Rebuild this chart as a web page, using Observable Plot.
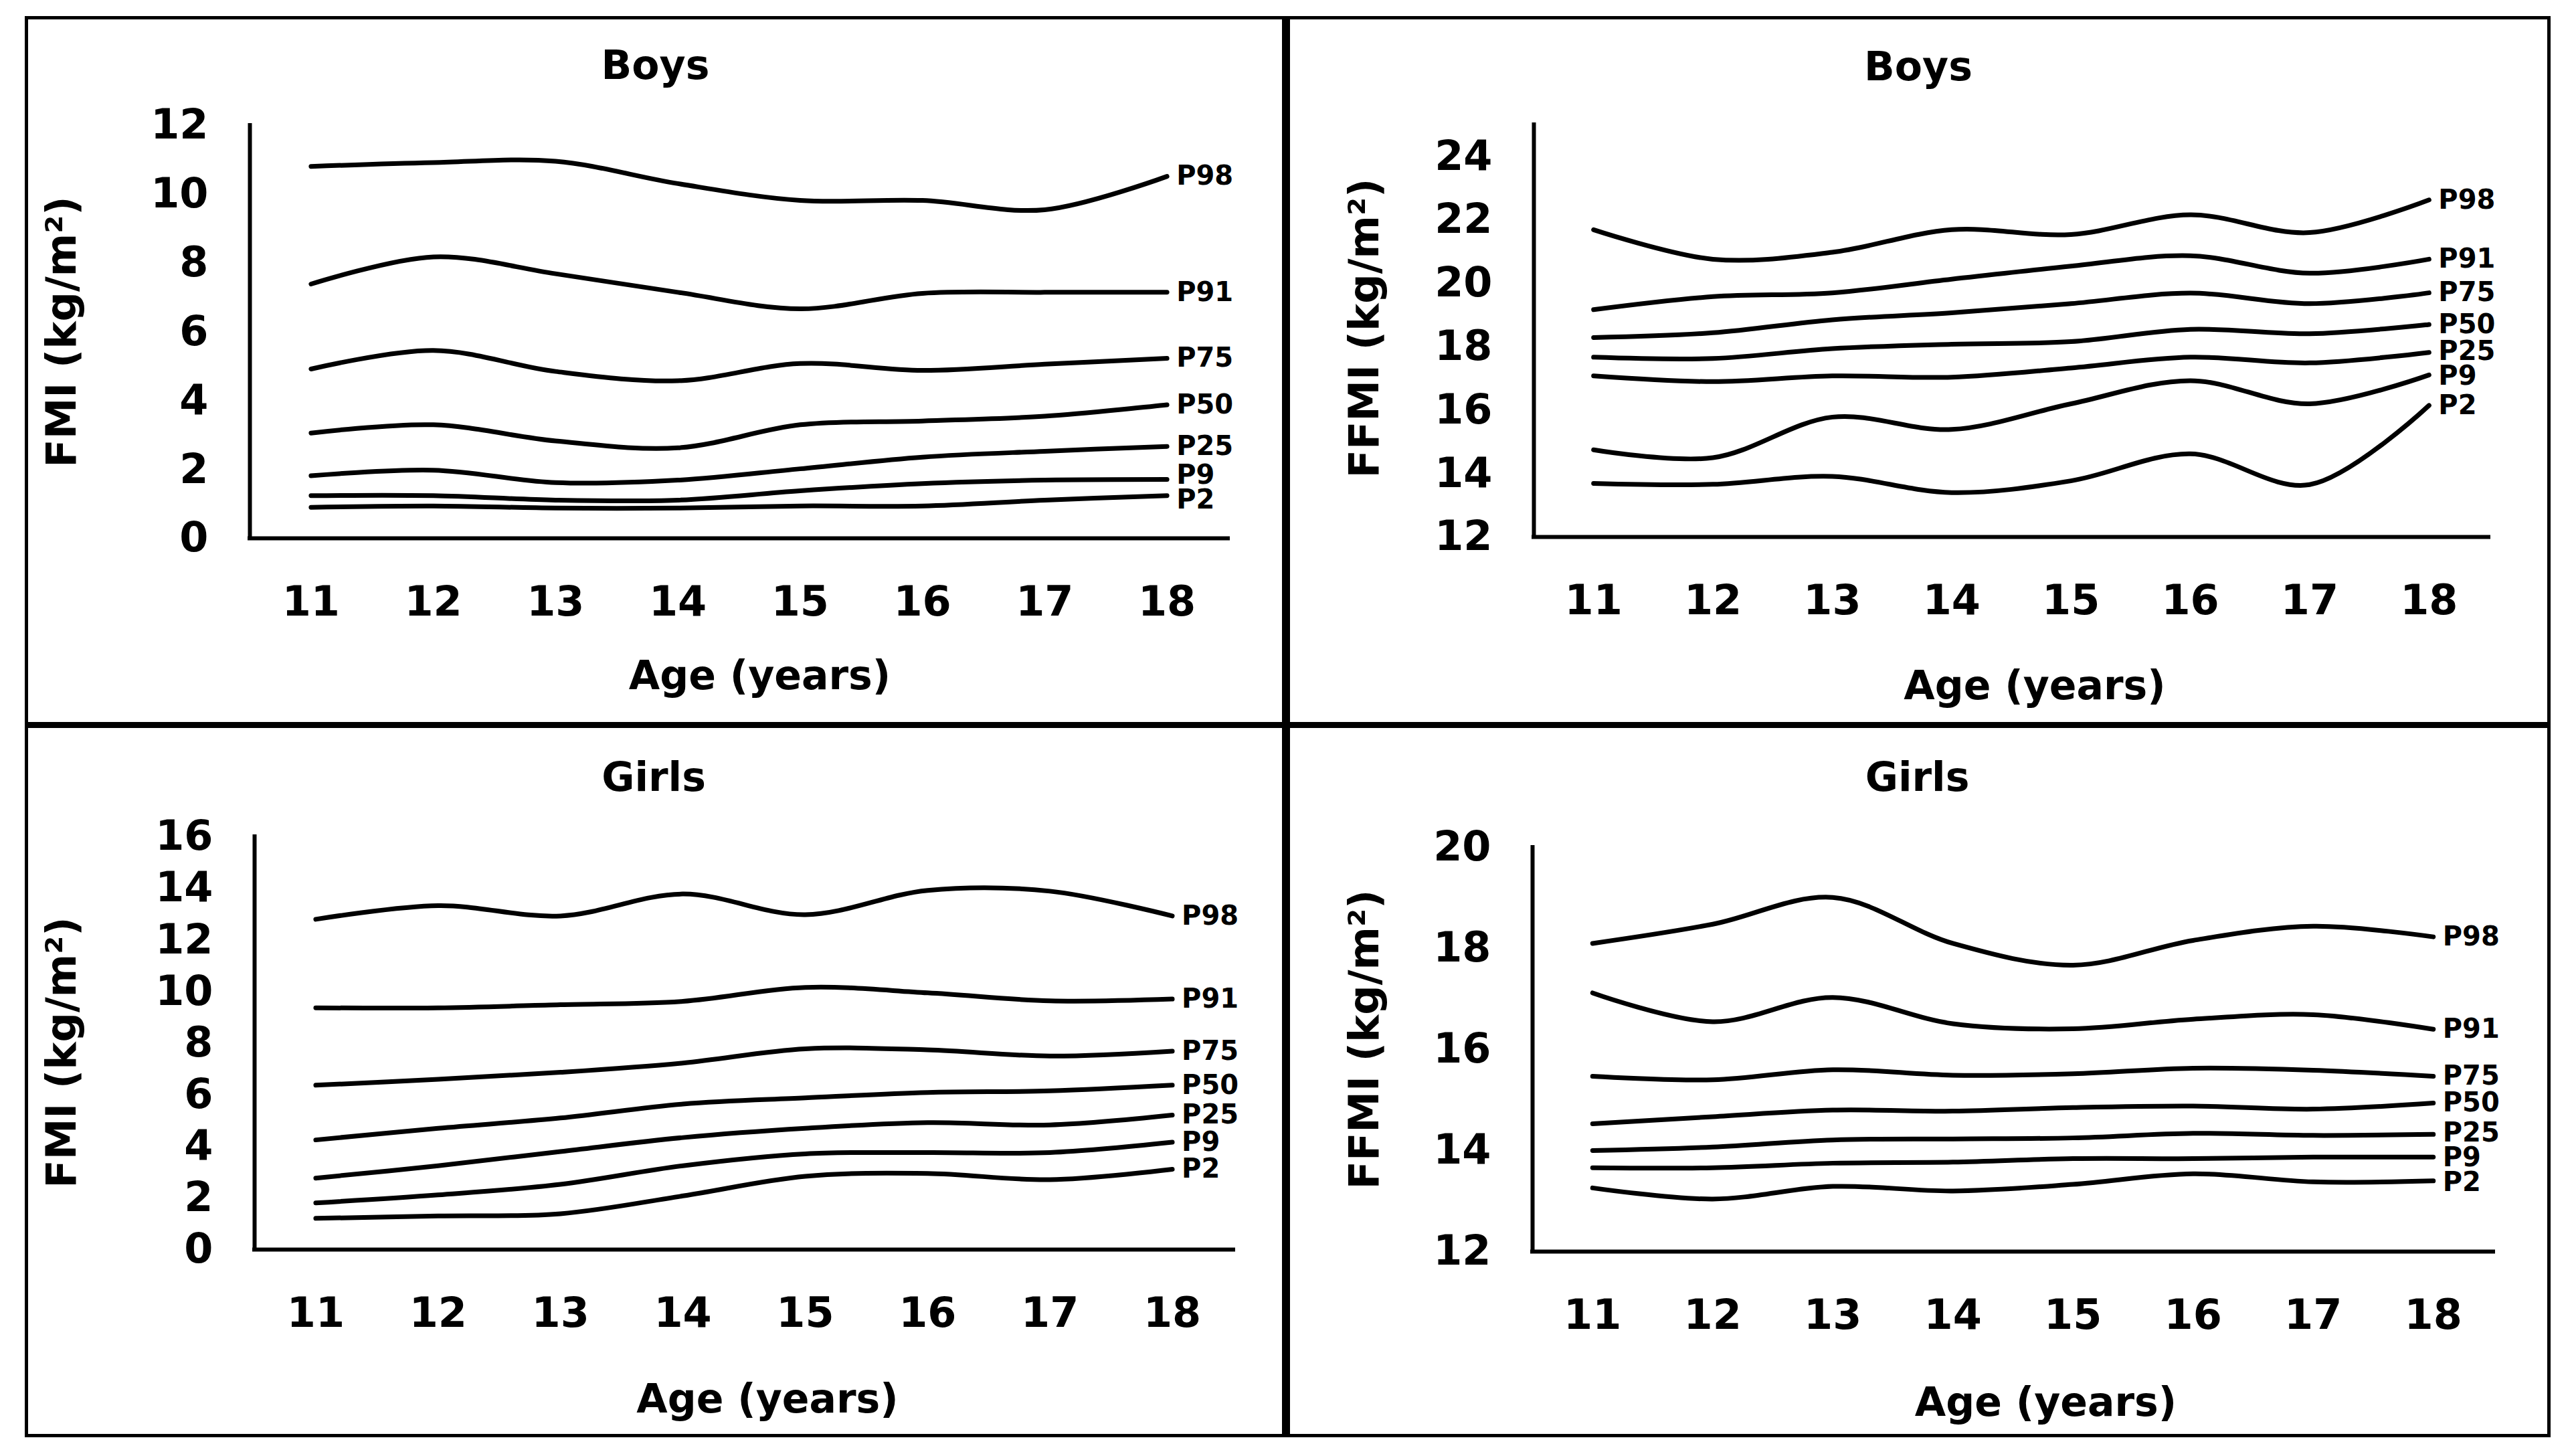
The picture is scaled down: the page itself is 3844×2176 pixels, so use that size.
<!DOCTYPE html>
<html>
<head>
<meta charset="utf-8">
<script src="https://cdn.jsdelivr.net/npm/d3@7"></script>
<script src="https://cdn.jsdelivr.net/npm/@observablehq/plot@0.6"></script>
<style>
html, body { margin: 0; padding: 0; background: #fff; }
#page { position: relative; width: 3844px; height: 2176px; overflow: hidden; background: #fff; }
.panel { position: absolute; }
.border { position: absolute; border: 5px solid #000; box-sizing: border-box; }
.div { position: absolute; background: #000; }
</style>
</head>
<body>
<div id="page"></div>
<script>
// ---------- data ----------
const ages = [11, 12, 13, 14, 15, 16, 17, 18];
const xDomain = [10.5, 18.5];
const percentiles = ["P2", "P9", "P25", "P50", "P75", "P91", "P98"];

// FMI boys (kg/m²), rows in percentile order
const fmiBoys = [
  [0.90, 0.94, 0.88, 0.88, 0.94, 0.94, 1.11, 1.24],
  [1.24, 1.24, 1.11, 1.11, 1.38, 1.59, 1.69, 1.71],
  [1.82, 1.98, 1.62, 1.69, 2.02, 2.36, 2.53, 2.67],
  [3.06, 3.30, 2.83, 2.63, 3.30, 3.41, 3.55, 3.88],
  [4.92, 5.46, 4.85, 4.58, 5.08, 4.88, 5.06, 5.23],
  [7.39, 8.18, 7.69, 7.15, 6.67, 7.12, 7.15, 7.15],
  [10.81, 10.92, 10.96, 10.31, 9.82, 9.82, 9.55, 10.52]
];
// FFMI boys
const ffmiBoys = [
  [13.69, 13.66, 13.91, 13.40, 13.77, 14.62, 13.65, 16.15],
  [14.75, 14.50, 15.78, 15.39, 16.20, 16.93, 16.20, 17.11],
  [17.08, 16.90, 17.08, 17.04, 17.33, 17.67, 17.49, 17.82],
  [17.67, 17.63, 17.94, 18.08, 18.16, 18.55, 18.41, 18.70],
  [18.29, 18.44, 18.85, 19.07, 19.36, 19.69, 19.36, 19.70],
  [19.17, 19.58, 19.70, 20.13, 20.54, 20.87, 20.32, 20.76],
  [21.69, 20.76, 20.98, 21.69, 21.54, 22.16, 21.60, 22.63]
];
// FMI girls
const fmiGirls = [
  [1.21, 1.30, 1.39, 2.08, 2.84, 2.95, 2.71, 3.11],
  [1.81, 2.12, 2.53, 3.25, 3.71, 3.76, 3.76, 4.16],
  [2.77, 3.25, 3.80, 4.34, 4.70, 4.92, 4.83, 5.21],
  [4.25, 4.70, 5.10, 5.64, 5.88, 6.09, 6.15, 6.37],
  [6.37, 6.60, 6.87, 7.23, 7.78, 7.74, 7.50, 7.69],
  [9.37, 9.37, 9.49, 9.62, 10.16, 9.95, 9.64, 9.71],
  [12.80, 13.33, 12.93, 13.78, 12.98, 13.92, 13.89, 12.93]
];
// FFMI girls
const ffmiGirls = [
  [13.26, 13.04, 13.29, 13.20, 13.33, 13.54, 13.38, 13.40],
  [13.66, 13.66, 13.75, 13.77, 13.84, 13.84, 13.87, 13.87],
  [14.00, 14.07, 14.21, 14.23, 14.25, 14.34, 14.30, 14.32],
  [14.53, 14.67, 14.80, 14.78, 14.85, 14.88, 14.82, 14.94],
  [15.47, 15.40, 15.60, 15.49, 15.52, 15.63, 15.59, 15.47],
  [17.12, 16.55, 17.03, 16.51, 16.41, 16.60, 16.69, 16.40],
  [18.10, 18.48, 19.01, 18.10, 17.67, 18.16, 18.44, 18.23]
];

const fmiBoysTicks = [0, 2, 4, 6, 8, 10, 12];
const ffmiBoysTicks = [12, 14, 16, 18, 20, 22, 24];
const fmiGirlsTicks = [0, 2, 4, 6, 8, 10, 12, 14, 16];
const ffmiGirlsTicks = [12, 14, 16, 18, 20];

const fmiBoysDomain = [0, 12];
const ffmiBoysDomain = [12, 25];
const fmiGirlsDomain = [0, 16];
const ffmiGirlsDomain = [12, 20];

const titles = ["Boys", "Boys", "Girls", "Girls"];
const yLabels = ["FMI (kg/m²)", "FFMI (kg/m²)", "FMI (kg/m²)", "FFMI (kg/m²)"];
const xLabel = "Age (years)";

// ---------- layout ----------
const panels = [
  {series: fmiBoys, domain: fmiBoysDomain, ticks: fmiBoysTicks, title: titles[0], ylabel: yLabels[0],
   left: 0, top: 0, width: 1920, height: 1083, m: [187, 85, 279, 373],
   tOff: [-125, -89], xOff: [31, 206], yOff: [-280, 0]},
  {series: ffmiBoys, domain: ffmiBoysDomain, ticks: ffmiBoysTicks, title: titles[1], ylabel: yLabels[1],
   left: 1922, top: 0, width: 1922, height: 1083, m: [186, 125, 281, 370],
   tOff: [-139, -86], xOff: [35, 223], yOff: [-252, -4]},
  {series: fmiGirls, domain: fmiGirlsDomain, ticks: fmiGirlsTicks, title: titles[2], ylabel: yLabels[2],
   left: 0, top: 1083, width: 1920, height: 1093, m: [167, 77, 309, 380],
   tOff: [-135, -88], xOff: [35, 224], yOff: [-287, 14]},
  {series: ffmiGirls, domain: ffmiGirlsDomain, ticks: ffmiGirlsTicks, title: titles[3], ylabel: yLabels[3],
   left: 1922, top: 1083, width: 1922, height: 1093, m: [183, 118, 306, 368],
   tOff: [-143, -104], xOff: [49, 226], yOff: [-250, -15]}
];

const LABEL_GAP = 37; // minimum vertical spacing (px) between end labels

// spread end-of-line labels apart so they do not collide (value units)
function spreadLabels(values, pxPerUnit) {
  const pos = values.map(v => -v * pxPerUnit); // screen-like, smaller = higher
  const order = d3.range(pos.length).sort((a, b) => pos[a] - pos[b]);
  for (let iter = 0; iter < 200; iter++) {
    let moved = false;
    for (let k = 1; k < order.length; k++) {
      const a = order[k - 1], b = order[k];
      const gap = pos[b] - pos[a];
      if (gap < LABEL_GAP - 0.01) {
        const d = (LABEL_GAP - gap) / 2;
        pos[a] -= d; pos[b] += d; moved = true;
      }
    }
    if (!moved) break;
  }
  return pos.map(p => -p / pxPerUnit);
}

const page = document.getElementById("page");

for (const P of panels) {
  const rows = percentiles.flatMap((p, i) => ages.map((a, j) => ({p, age: a, value: P.series[i][j]})));
  const innerH = P.height - P.m[0] - P.m[2];
  const pxPerUnit = innerH / (P.domain[1] - P.domain[0]);
  const lastAge = ages[ages.length - 1];
  const lastVals = P.series.map(s => s[s.length - 1]);
  const labelVals = spreadLabels(lastVals, pxPerUnit);
  const labelRows = percentiles.map((p, i) => ({p, age: lastAge, value: labelVals[i]}));

  const svg = Plot.plot({
    width: P.width,
    height: P.height,
    marginTop: P.m[0], marginRight: P.m[1], marginBottom: P.m[2], marginLeft: P.m[3],
    x: {domain: xDomain, label: null},
    y: {domain: P.domain, label: null},
    style: {fontFamily: "'DejaVu Sans', sans-serif", fontWeight: "bold", fontSize: "62px",
            color: "#000", background: "transparent", overflow: "visible"},
    marks: [
      Plot.axisY(P.ticks, {tickSize: 0, tickPadding: 62, fontSize: 62, label: null, tickFormat: d => String(d)}),
      Plot.axisX(ages, {tickSize: 0, tickPadding: 71, fontSize: 62, label: null, tickFormat: d => String(d)}),
      Plot.line(rows, {x: "age", y: "value", z: "p", curve: "catmull-rom",
                       stroke: "#000", strokeWidth: 7, strokeLinejoin: "round"}),
      Plot.text(labelRows, {x: "age", y: "value", text: "p",
                       textAnchor: "start", lineAnchor: "middle", dx: 14, fontSize: 40}),
      Plot.ruleX([xDomain[0]], {stroke: "#000", strokeWidth: 6, strokeLinecap: "square"}),
      Plot.ruleY([P.domain[0]], {stroke: "#000", strokeWidth: 6, strokeLinecap: "square"}),
      Plot.text([P.title], {text: d => d, frameAnchor: "top", textAnchor: "middle", lineAnchor: "middle",
                            dx: P.tOff[0], dy: P.tOff[1], fontSize: 60}),
      Plot.text([xLabel], {text: d => d, frameAnchor: "bottom", textAnchor: "middle", lineAnchor: "middle",
                           dx: P.xOff[0], dy: P.xOff[1], fontSize: 60}),
      Plot.text([P.ylabel], {text: d => d, frameAnchor: "left", textAnchor: "middle", lineAnchor: "middle",
                             rotate: -90, dx: P.yOff[0], dy: P.yOff[1], fontSize: 62})
    ]
  });
  svg.classList.add("panel");
  svg.style.left = P.left + "px";
  svg.style.top = P.top + "px";
  svg.style.position = "absolute";
  page.appendChild(svg);
}

// frame and dividers
const border = document.createElement("div");
border.className = "border";
Object.assign(border.style, {left: "37px", top: "24px", width: "3775px", height: "2124px"});
page.appendChild(border);
const vdiv = document.createElement("div");
vdiv.className = "div";
Object.assign(vdiv.style, {left: "1916px", top: "24px", width: "12px", height: "2124px"});
page.appendChild(vdiv);
const hdiv = document.createElement("div");
hdiv.className = "div";
Object.assign(hdiv.style, {left: "37px", top: "1079px", width: "3775px", height: "9px"});
page.appendChild(hdiv);
</script>
</body>
</html>
